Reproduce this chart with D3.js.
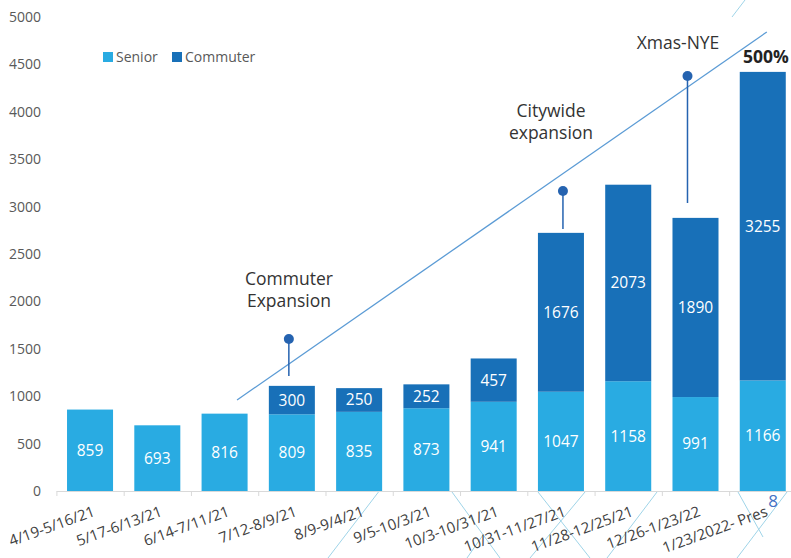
<!DOCTYPE html>
<html>
<head>
<meta charset="utf-8">
<script src="https://cdn.jsdelivr.net/npm/d3@7"></script>
<style>
  body { margin: 0; background: #fff; }
  svg { font-family: "Open Sans", "Noto Sans", sans-serif; }
</style>
</head>
<body>
<svg id="chart" width="791" height="558"></svg>
<script>
// data
const periods = ["4/19-5/16/21", "5/17-6/13/21", "6/14-7/11/21", "7/12-8/9/21", "8/9-9/4/21",
    "9/5-10/3/21", "10/3-10/31/21", "10/31-11/27/21", "11/28-12/25/21", "12/26-1/23/22", "1/23/2022- Pres"];
const senior = [859, 693, 816, 809, 835, 873, 941, 1047, 1158, 991, 1166];
const commuter = [0, 0, 0, 300, 250, 252, 457, 1676, 2073, 1890, 3255];
const yTicks = [0, 500, 1000, 1500, 2000, 2500, 3000, 3500, 4000, 4500, 5000];

// trend line, [band position, value]
const trendLine = [[2.685, 960], [10.56, 4842]];

// pins: category index, circle value, stem end value
const pins = [
    {idx: 3, top: 1603, bottom: 1213, dx: -3},
    {idx: 7, top: 3165, bottom: 2764, dx: 2},
    {idx: 9, top: 4378, bottom: 3038, dx: -8},
];

const svg = d3.select("#chart");
const seniorColor = "#29abe2";
const commuterColor = "#1870b8";

let x = d3.scaleBand()
    .domain(periods)
    .range([56.4, 796.4])
    .paddingInner(0.316)
    .paddingOuter(0.158);

let y = d3.scaleLinear()
    .domain([0, 5000])
    .range([491, 17]);

let step = x.step();
let bandPos = (i) => x.range()[0] + i * step;

// background decoration lines
const deco = [[380, 490, 328, 558], [452, 492, 500, 558], [467, 558, 483, 535], [585, 492, 530, 558],
    [538, 492, 590, 558], [657, 492, 607, 558], [738, 492, 763, 537], [787, 492, 737, 558], [732, 17, 745, 0]];
svg.append("g").selectAll("line")
    .data(deco)
    .join("line")
    .attr("x1", d => d[0]).attr("y1", d => d[1])
    .attr("x2", d => d[2]).attr("y2", d => d[3])
    .attr("stroke", "#9fd4e8")
    .attr("stroke-width", 1);

// y axis labels
svg.append("g").selectAll("text")
    .data(yTicks)
    .join("text")
    .attr("x", 41)
    .attr("y", d => y(d))
    .attr("dy", "0.35em")
    .attr("text-anchor", "end")
    .style("font-size", "14px")
    .style("fill", "#595959")
    .text(d => d);

// x axis
let xg = svg.append("g");
xg.append("line")
    .attr("x1", bandPos(0)).attr("x2", 791)
    .attr("y1", 491.5).attr("y2", 491.5)
    .attr("stroke", "#d9d9d9");
xg.selectAll(".tk")
    .data(d3.range(periods.length + 1))
    .join("line")
    .attr("class", "tk")
    .attr("x1", d => bandPos(d) + 0.5).attr("x2", d => bandPos(d) + 0.5)
    .attr("y1", 491.5).attr("y2", 496)
    .attr("stroke", "#d9d9d9");
xg.selectAll(".lbl")
    .data(periods)
    .join("text")
    .attr("class", "lbl")
    .attr("text-anchor", "end")
    .attr("transform", d => `translate(${x(d) + x.bandwidth() / 2 + 2}, 505) rotate(-20)`)
    .attr("dy", "0.75em")
    .style("font-size", "15px")
    .style("fill", "#404040")
    .text(d => d);

// bars
let bars = svg.append("g");
bars.selectAll(".senior")
    .data(periods)
    .join("rect")
    .attr("class", "senior")
    .attr("x", d => x(d))
    .attr("width", x.bandwidth())
    .attr("y", (d, i) => y(senior[i]))
    .attr("height", (d, i) => y(0) - y(senior[i]))
    .attr("fill", seniorColor);
bars.selectAll(".commuter")
    .data(periods.filter((d, i) => commuter[i] > 0))
    .join("rect")
    .attr("class", "commuter")
    .attr("x", d => x(d))
    .attr("width", x.bandwidth())
    .attr("y", d => { let i = periods.indexOf(d); return y(senior[i] + commuter[i]); })
    .attr("height", d => { let i = periods.indexOf(d); return y(senior[i]) - y(senior[i] + commuter[i]); })
    .attr("fill", commuterColor);

// value labels
bars.selectAll(".sl")
    .data(periods)
    .join("text")
    .attr("class", "sl")
    .attr("x", d => x(d) + x.bandwidth() / 2)
    .attr("y", (d, i) => y(senior[i] / 2))
    .attr("dy", "0.35em")
    .attr("text-anchor", "middle")
    .style("font-size", "15.5px")
    .style("fill", "#fff")
    .text((d, i) => senior[i]);
bars.selectAll(".cl")
    .data(periods.filter((d, i) => commuter[i] > 0))
    .join("text")
    .attr("class", "cl")
    .attr("x", d => x(d) + x.bandwidth() / 2)
    .attr("y", d => { let i = periods.indexOf(d); return y(senior[i] + commuter[i] / 2); })
    .attr("dy", "0.35em")
    .attr("text-anchor", "middle")
    .style("font-size", "15.5px")
    .style("fill", "#fff")
    .text(d => commuter[periods.indexOf(d)]);

// trend line
svg.append("line")
    .attr("x1", bandPos(trendLine[0][0])).attr("y1", y(trendLine[0][1]))
    .attr("x2", bandPos(trendLine[1][0])).attr("y2", y(trendLine[1][1]))
    .attr("stroke", "#5b9bd5")
    .attr("stroke-width", 1.3);

// pins
let pg = svg.append("g");
pins.forEach(p => {
    let cx = bandPos(p.idx + 0.5) + p.dx;
    pg.append("line")
        .attr("x1", cx).attr("x2", cx)
        .attr("y1", y(p.top)).attr("y2", y(p.bottom))
        .attr("stroke", "#2563b0")
        .attr("stroke-width", 1.5);
    pg.append("circle")
        .attr("cx", cx).attr("cy", y(p.top))
        .attr("r", 5)
        .attr("fill", "#2563b0");
});

// annotations
const notes = [
    {lines: ["Commuter", "Expansion"], x: 289, y: 285},
    {lines: ["Citywide", "expansion"], x: 551, y: 117},
    {lines: ["Xmas-NYE"], x: 678, y: 49},
];
notes.forEach(n => {
    n.lines.forEach((l, k) => {
        svg.append("text")
            .attr("x", n.x).attr("y", n.y + k * 22)
            .attr("text-anchor", "middle")
            .style("font-size", "17.5px")
            .style("fill", "#333")
            .text(l);
    });
});
svg.append("text")
    .attr("x", 766).attr("y", 63)
    .attr("text-anchor", "middle")
    .style("font-size", "17.5px")
    .style("font-weight", "bold")
    .style("fill", "#222")
    .text("500%");

// legend
let lg = svg.append("g");
[["Senior", seniorColor, 103], ["Commuter", commuterColor, 172]].forEach(([name, c, lx]) => {
    lg.append("rect").attr("x", lx).attr("y", 52).attr("width", 10).attr("height", 10).attr("fill", c);
    lg.append("text").attr("x", lx + 13).attr("y", 57).attr("dy", "0.35em")
        .style("font-size", "14px").style("fill", "#595959").text(name);
});

// page number
svg.append("text")
    .attr("x", 773).attr("y", 507)
    .attr("text-anchor", "middle")
    .style("font-size", "17px")
    .style("fill", "#4472c4")
    .text("8");
</script>
</body>
</html>
